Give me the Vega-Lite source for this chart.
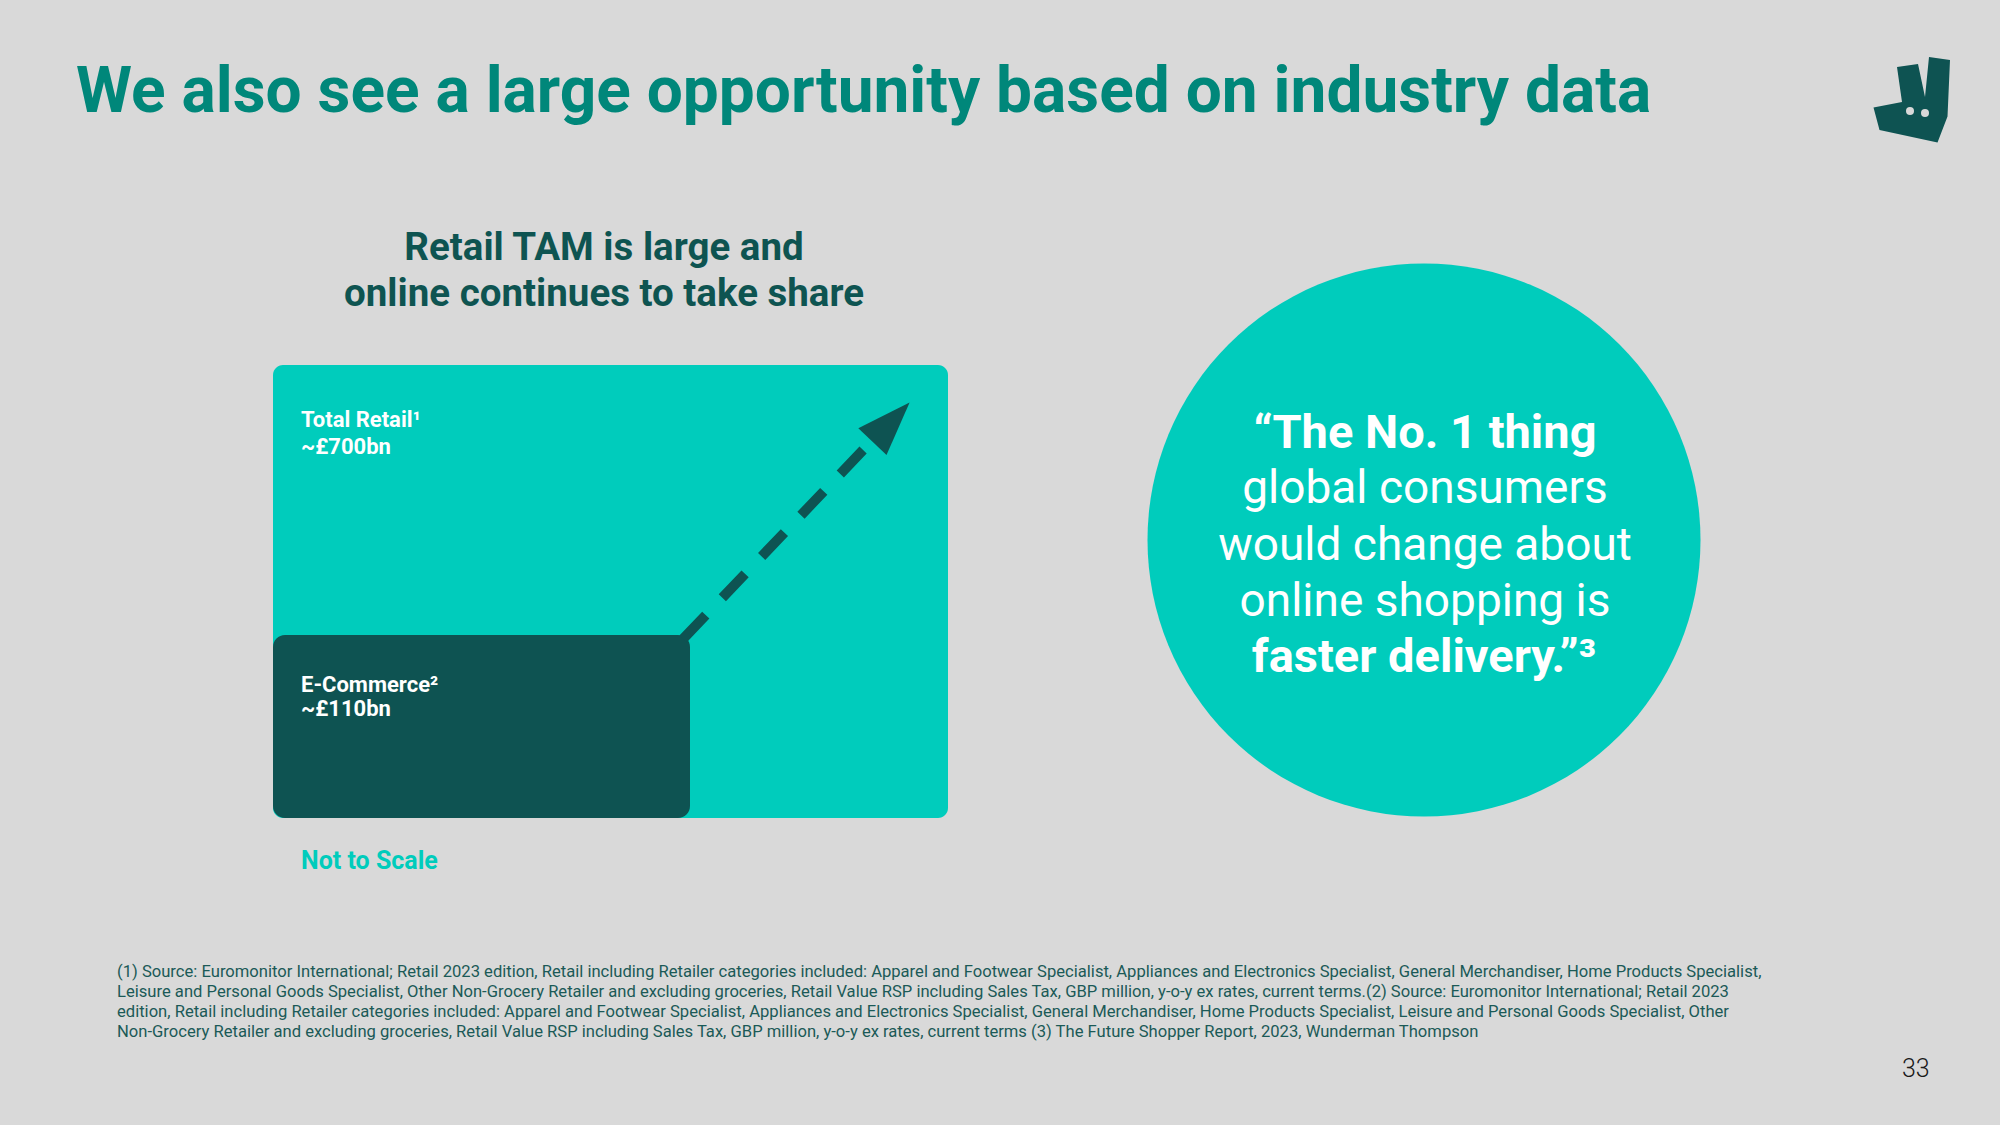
{
  "$schema": "https://vega.github.io/schema/vega-lite/v6.json",
  "width": 2000,
  "height": 1125,
  "padding": 0,
  "autosize": {"type": "none"},
  "background": "#d9d9d9",
  "config": {"view": {"stroke": null}, "axis": {"disable": true}, "font": "Roboto"},
  "layer": [
    {
      "data": {"values": [{"segment": "Total Retail", "market_bn": 700}]},
      "mark": {"type": "rect", "color": "#00ccbc", "cornerRadius": 10},
      "encoding": {
        "x": {"datum": 273, "type": "quantitative", "scale": {"domain": [0, 2000], "nice": false, "zero": false}},
        "x2": {"datum": 948},
        "y": {"datum": 365, "type": "quantitative", "scale": {"domain": [0, 1125], "nice": false, "zero": false, "reverse": true}},
        "y2": {"datum": 818}
      }
    },
    {
      "data": {"values": [{"segment": "E-Commerce", "market_bn": 110}]},
      "mark": {"type": "rect", "color": "#0e5352", "cornerRadius": 12},
      "encoding": {
        "x": {"datum": 273, "type": "quantitative", "scale": {"domain": [0, 2000], "nice": false, "zero": false}},
        "x2": {"datum": 690},
        "y": {"datum": 635, "type": "quantitative", "scale": {"domain": [0, 1125], "nice": false, "zero": false, "reverse": true}},
        "y2": {"datum": 818}
      }
    },
    {
      "data": {"values": [{"element": "growth arrow"}]},
      "mark": {"type": "rule", "color": "#0e5352", "strokeWidth": 10, "strokeDash": [33, 24], "strokeCap": "butt"},
      "encoding": {
        "x": {"datum": 683, "type": "quantitative", "scale": {"domain": [0, 2000], "nice": false, "zero": false}},
        "x2": {"datum": 866},
        "y": {"datum": 639, "type": "quantitative", "scale": {"domain": [0, 1125], "nice": false, "zero": false, "reverse": true}},
        "y2": {"datum": 447}
      }
    },
    {
      "data": {"values": [{"element": "arrow head"}]},
      "mark": {"type": "point", "shape": "M0,-1L0.72,1L-0.72,1Z", "filled": true, "color": "#0e5352", "opacity": 1, "size": 2916, "angle": 43.5, "strokeWidth": 0},
      "encoding": {
        "x": {"datum": 891, "type": "quantitative", "scale": {"domain": [0, 2000], "nice": false, "zero": false}},
        "y": {"datum": 422, "type": "quantitative", "scale": {"domain": [0, 1125], "nice": false, "zero": false, "reverse": true}}
      }
    },
    {
      "data": {"values": [{"element": "quote bubble"}]},
      "mark": {"type": "point", "shape": "circle", "filled": true, "color": "#00ccbc", "opacity": 1, "size": 305809, "strokeWidth": 0},
      "encoding": {
        "x": {"datum": 1424, "type": "quantitative", "scale": {"domain": [0, 2000], "nice": false, "zero": false}},
        "y": {"datum": 540, "type": "quantitative", "scale": {"domain": [0, 1125], "nice": false, "zero": false, "reverse": true}}
      }
    },
    {
      "data": {"values": [{"element": "logo"}]},
      "mark": {"type": "point", "shape": "M-0.30,-0.66L0.12,-0.72L0.26,-0.06L0.34,-0.86L0.76,-0.80L0.71,0.33L0.51,0.85L-0.65,0.60L-0.77,0.15L-0.20,0.04Z", "filled": true, "color": "#0e5352", "opacity": 1, "size": 10000, "strokeWidth": 0},
      "encoding": {
        "x": {"datum": 1912, "type": "quantitative", "scale": {"domain": [0, 2000], "nice": false, "zero": false}},
        "y": {"datum": 100, "type": "quantitative", "scale": {"domain": [0, 1125], "nice": false, "zero": false, "reverse": true}}
      }
    },
    {
      "data": {"values": [{"eye": "left", "ex": 1910, "ey": 111}, {"eye": "right", "ex": 1925, "ey": 113}]},
      "mark": {"type": "point", "shape": "circle", "filled": true, "color": "#d9d9d9", "opacity": 1, "size": 64, "strokeWidth": 0},
      "encoding": {
        "x": {"field": "ex", "type": "quantitative", "scale": {"domain": [0, 2000], "nice": false, "zero": false}},
        "y": {"field": "ey", "type": "quantitative", "scale": {"domain": [0, 1125], "nice": false, "zero": false, "reverse": true}}
      }
    },
    {
      "data": {"values": [{"text": "We also see a large opportunity based on industry data"}]},
      "mark": {"type": "text", "align": "left", "baseline": "alphabetic", "fontSize": 64, "fontWeight": "bold", "color": "#00877a"},
      "encoding": {
        "x": {"datum": 76, "type": "quantitative", "scale": {"domain": [0, 2000], "nice": false, "zero": false}},
        "y": {"datum": 112, "type": "quantitative", "scale": {"domain": [0, 1125], "nice": false, "zero": false, "reverse": true}},
        "text": {"field": "text"}
      }
    },
    {
      "data": {"values": [{"text": ["Retail TAM is large and", "online continues to take share"]}]},
      "mark": {"type": "text", "align": "center", "baseline": "alphabetic", "fontSize": 38.5, "lineHeight": 46, "fontWeight": "bold", "color": "#0e5451"},
      "encoding": {
        "x": {"datum": 604, "type": "quantitative", "scale": {"domain": [0, 2000], "nice": false, "zero": false}},
        "y": {"datum": 260, "type": "quantitative", "scale": {"domain": [0, 1125], "nice": false, "zero": false, "reverse": true}},
        "text": {"field": "text"}
      }
    },
    {
      "data": {"values": [{"segment": "Total Retail", "text": ["Total Retail¹", "~£700bn"]}]},
      "mark": {"type": "text", "align": "left", "baseline": "alphabetic", "fontSize": 22, "lineHeight": 27, "fontWeight": "bold", "color": "#ffffff"},
      "encoding": {
        "x": {"datum": 301, "type": "quantitative", "scale": {"domain": [0, 2000], "nice": false, "zero": false}},
        "y": {"datum": 427, "type": "quantitative", "scale": {"domain": [0, 1125], "nice": false, "zero": false, "reverse": true}},
        "text": {"field": "text"}
      }
    },
    {
      "data": {"values": [{"segment": "E-Commerce", "text": ["E-Commerce²", "~£110bn"]}]},
      "mark": {"type": "text", "align": "left", "baseline": "alphabetic", "fontSize": 22, "lineHeight": 24, "fontWeight": "bold", "color": "#ffffff"},
      "encoding": {
        "x": {"datum": 301, "type": "quantitative", "scale": {"domain": [0, 2000], "nice": false, "zero": false}},
        "y": {"datum": 692, "type": "quantitative", "scale": {"domain": [0, 1125], "nice": false, "zero": false, "reverse": true}},
        "text": {"field": "text"}
      }
    },
    {
      "data": {"values": [{"text": "Not to Scale"}]},
      "mark": {"type": "text", "align": "left", "baseline": "alphabetic", "fontSize": 25, "fontWeight": "bold", "color": "#00ccbc"},
      "encoding": {
        "x": {"datum": 301, "type": "quantitative", "scale": {"domain": [0, 2000], "nice": false, "zero": false}},
        "y": {"datum": 869, "type": "quantitative", "scale": {"domain": [0, 1125], "nice": false, "zero": false, "reverse": true}},
        "text": {"field": "text"}
      }
    },
    {
      "data": {"values": [{"text": "“The No. 1 thing"}]},
      "mark": {"type": "text", "align": "center", "baseline": "alphabetic", "fontSize": 47, "fontWeight": "bold", "color": "#ffffff"},
      "encoding": {
        "x": {"datum": 1425, "type": "quantitative", "scale": {"domain": [0, 2000], "nice": false, "zero": false}},
        "y": {"datum": 448, "type": "quantitative", "scale": {"domain": [0, 1125], "nice": false, "zero": false, "reverse": true}},
        "text": {"field": "text"}
      }
    },
    {
      "data": {"values": [{"text": ["global consumers", "would change about", "online shopping is"]}]},
      "mark": {"type": "text", "align": "center", "baseline": "alphabetic", "fontSize": 46, "lineHeight": 56.5, "fontWeight": "normal", "color": "#ffffff"},
      "encoding": {
        "x": {"datum": 1425, "type": "quantitative", "scale": {"domain": [0, 2000], "nice": false, "zero": false}},
        "y": {"datum": 503, "type": "quantitative", "scale": {"domain": [0, 1125], "nice": false, "zero": false, "reverse": true}},
        "text": {"field": "text"}
      }
    },
    {
      "data": {"values": [{"text": "faster delivery.”³"}]},
      "mark": {"type": "text", "align": "center", "baseline": "alphabetic", "fontSize": 47, "fontWeight": "bold", "color": "#ffffff"},
      "encoding": {
        "x": {"datum": 1424, "type": "quantitative", "scale": {"domain": [0, 2000], "nice": false, "zero": false}},
        "y": {"datum": 672, "type": "quantitative", "scale": {"domain": [0, 1125], "nice": false, "zero": false, "reverse": true}},
        "text": {"field": "text"}
      }
    },
    {
      "data": {"values": [{"text": [
        "(1) Source: Euromonitor International; Retail 2023 edition, Retail including Retailer categories included: Apparel and Footwear Specialist, Appliances and Electronics Specialist, General Merchandiser, Home Products Specialist,",
        "Leisure and Personal Goods Specialist, Other Non-Grocery Retailer and excluding groceries, Retail Value RSP including Sales Tax, GBP million, y-o-y ex rates, current terms.(2) Source: Euromonitor International; Retail 2023",
        "edition, Retail including Retailer categories included: Apparel and Footwear Specialist, Appliances and Electronics Specialist, General Merchandiser, Home Products Specialist, Leisure and Personal Goods Specialist, Other",
        "Non-Grocery Retailer and excluding groceries, Retail Value RSP including Sales Tax, GBP million, y-o-y ex rates, current terms  (3) The Future Shopper Report, 2023, Wunderman Thompson"
      ]}]},
      "mark": {"type": "text", "align": "left", "baseline": "alphabetic", "fontSize": 16.6, "lineHeight": 20, "fontWeight": "normal", "color": "#1b5a57"},
      "encoding": {
        "x": {"datum": 117, "type": "quantitative", "scale": {"domain": [0, 2000], "nice": false, "zero": false}},
        "y": {"datum": 977, "type": "quantitative", "scale": {"domain": [0, 1125], "nice": false, "zero": false, "reverse": true}},
        "text": {"field": "text"}
      }
    },
    {
      "data": {"values": [{"text": "33"}]},
      "mark": {"type": "text", "align": "left", "baseline": "alphabetic", "fontSize": 25, "fontWeight": 300, "color": "#1a1a1a"},
      "encoding": {
        "x": {"datum": 1902, "type": "quantitative", "scale": {"domain": [0, 2000], "nice": false, "zero": false}},
        "y": {"datum": 1077, "type": "quantitative", "scale": {"domain": [0, 1125], "nice": false, "zero": false, "reverse": true}},
        "text": {"field": "text"}
      }
    }
  ]
}
